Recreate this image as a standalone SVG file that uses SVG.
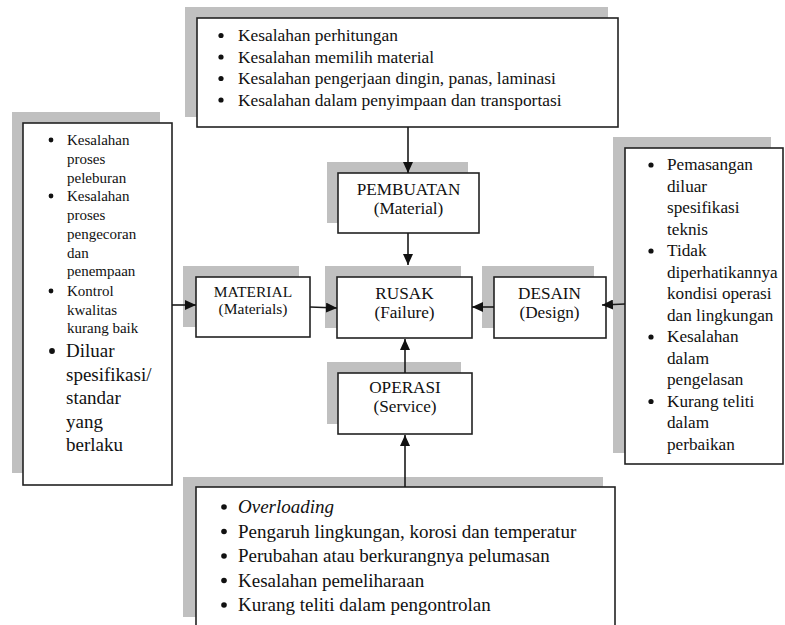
<svg xmlns="http://www.w3.org/2000/svg" width="785" height="625" viewBox="0 0 785 625">
<style>
.sh{fill:#c0c0c0;stroke:none}
.bx{fill:#fff;stroke:#222;stroke-width:1.6}
.t{font-family:"Liberation Serif","Times New Roman",serif;fill:#111}
.c{text-anchor:middle}
.b{fill:#111}
.ln{stroke:#1a1a1a;stroke-width:1.6;fill:none}
</style>
<defs>
<marker id="ah" markerUnits="userSpaceOnUse" markerWidth="11" markerHeight="10" refX="11" refY="5" orient="auto">
<path d="M0,0 L11,5 L0,10 z" fill="#111"/>
</marker>
</defs>
<rect width="785" height="625" fill="#fff"/>

<g id="top-causes">
<rect class="sh" x="185" y="7" width="423" height="110"/>
<rect class="bx" x="197" y="18" width="421" height="109"/>
<g class="t" font-size="17.4">
<circle class="b" cx="221" cy="35.5" r="2.6"/>
<text x="238" y="41">Kesalahan perhitungan</text>
<circle class="b" cx="221" cy="57" r="2.6"/>
<text x="238" y="62.5">Kesalahan memilih material</text>
<circle class="b" cx="221" cy="78.5" r="2.6"/>
<text x="238" y="84">Kesalahan pengerjaan dingin, panas, laminasi</text>
<circle class="b" cx="221" cy="100" r="2.6"/>
<text x="238" y="105.5">Kesalahan dalam penyimpaan dan transportasi</text>
</g>
</g>

<g id="left-causes">
<rect class="sh" x="12" y="112" width="148" height="361"/>
<rect class="bx" x="23" y="123" width="149" height="362"/>
<g class="t" font-size="15">
<circle class="b" cx="51" cy="140" r="2.4"/>
<text x="67" y="145">Kesalahan</text>
<text x="67" y="164">proses</text>
<text x="67" y="182.5">peleburan</text>
<circle class="b" cx="51" cy="196" r="2.4"/>
<text x="67" y="201">Kesalahan</text>
<text x="67" y="220">proses</text>
<text x="67" y="238.5">pengecoran</text>
<text x="67" y="257.5">dan</text>
<text x="67" y="276">penempaan</text>
<circle class="b" cx="51" cy="291" r="2.4"/>
<text x="67" y="296">Kontrol</text>
<text x="67" y="314.5">kwalitas</text>
<text x="67" y="333">kurang baik</text>
</g>
<g class="t" font-size="19">
<circle class="b" cx="52" cy="351" r="2.9"/>
<text x="66" y="357">Diluar</text>
<text x="66" y="380.5">spesifikasi/</text>
<text x="66" y="404">standar</text>
<text x="66" y="427.5">yang</text>
<text x="66" y="451">berlaku</text>
</g>
</g>

<g id="right-causes">
<rect class="sh" x="613" y="137" width="158" height="316"/>
<rect class="bx" x="625" y="148" width="158" height="316"/>
<g class="t" font-size="17.2">
<circle class="b" cx="651" cy="165" r="2.6"/>
<text x="667" y="170">Pemasangan</text>
<text x="667" y="191.5">diluar</text>
<text x="667" y="213">spesifikasi</text>
<text x="667" y="234.5">teknis</text>
<circle class="b" cx="651" cy="251" r="2.6"/>
<text x="667" y="256">Tidak</text>
<text x="667" y="277.5">diperhatikannya</text>
<text x="667" y="299">kondisi operasi</text>
<text x="667" y="320.5">dan lingkungan</text>
<circle class="b" cx="651" cy="337" r="2.6"/>
<text x="667" y="342">Kesalahan</text>
<text x="667" y="363.5">dalam</text>
<text x="667" y="385">pengelasan</text>
<circle class="b" cx="651" cy="401.5" r="2.6"/>
<text x="667" y="406.5">Kurang teliti</text>
<text x="667" y="428">dalam</text>
<text x="667" y="449.5">perbaikan</text>
</g>
</g>

<g id="bottom-causes">
<rect class="sh" x="183" y="477" width="420" height="140"/>
<rect class="bx" x="196" y="487" width="419" height="160"/>
<g class="t" font-size="19">
<circle class="b" cx="224" cy="507" r="2.8"/>
<text x="238" y="513" font-style="italic">Overloading</text>
<circle class="b" cx="224" cy="531.5" r="2.8"/>
<text x="238" y="537.5">Pengaruh lingkungan, korosi dan temperatur</text>
<circle class="b" cx="224" cy="556" r="2.8"/>
<text x="238" y="562">Perubahan atau berkurangnya pelumasan</text>
<circle class="b" cx="224" cy="580.5" r="2.8"/>
<text x="238" y="586.5">Kesalahan pemeliharaan</text>
<circle class="b" cx="224" cy="605" r="2.8"/>
<text x="238" y="611">Kurang teliti dalam pengontrolan</text>
</g>
</g>

<g id="pembuatan">
<rect class="sh" x="327" y="162" width="141" height="61"/>
<rect class="bx" x="338" y="173" width="141" height="60"/>
<text class="t c" x="408.5" y="195" font-size="17.2">PEMBUATAN</text>
<text class="t c" x="408.5" y="214" font-size="17.2">(Material)</text>
</g>

<g id="material">
<rect class="sh" x="183" y="266" width="116" height="61"/>
<rect class="bx" x="196" y="277" width="114" height="60"/>
<text class="t c" x="253" y="297" font-size="15.5">MATERIAL</text>
<text class="t c" x="253" y="313.5" font-size="15.5">(Materials)</text>
</g>

<g id="rusak">
<rect class="sh" x="325" y="266" width="136" height="62"/>
<rect class="bx" x="337" y="277" width="135" height="61"/>
<text class="t c" x="404.5" y="299" font-size="17.2">RUSAK</text>
<text class="t c" x="404.5" y="318" font-size="17.2">(Failure)</text>
</g>

<g id="desain">
<rect class="sh" x="482" y="266" width="112" height="62"/>
<rect class="bx" x="494" y="277" width="112" height="61"/>
<text class="t c" x="549.5" y="299" font-size="17.2">DESAIN</text>
<text class="t c" x="549.5" y="318" font-size="17.2">(Design)</text>
</g>

<g id="operasi">
<rect class="sh" x="327" y="362" width="134" height="62"/>
<rect class="bx" x="338" y="373" width="134" height="61"/>
<text class="t c" x="405" y="393" font-size="17.2">OPERASI</text>
<text class="t c" x="405" y="412" font-size="17.2">(Service)</text>
</g>

<g id="connectors">
<path class="ln" d="M408,127 V173" marker-end="url(#ah)"/>
<path class="ln" d="M408,233 V265" marker-end="url(#ah)"/>
<path class="ln" d="M310,307 L337,308" marker-end="url(#ah)"/>
<path class="ln" d="M494,307 H472" marker-end="url(#ah)"/>
<path class="ln" d="M625,304 L602,305" marker-end="url(#ah)"/>
<path class="ln" d="M172,305 H196" marker-end="url(#ah)"/>
<path class="ln" d="M405,373 V339" marker-end="url(#ah)"/>
<path class="ln" d="M405,487 V435" marker-end="url(#ah)"/>
</g>
</svg>
